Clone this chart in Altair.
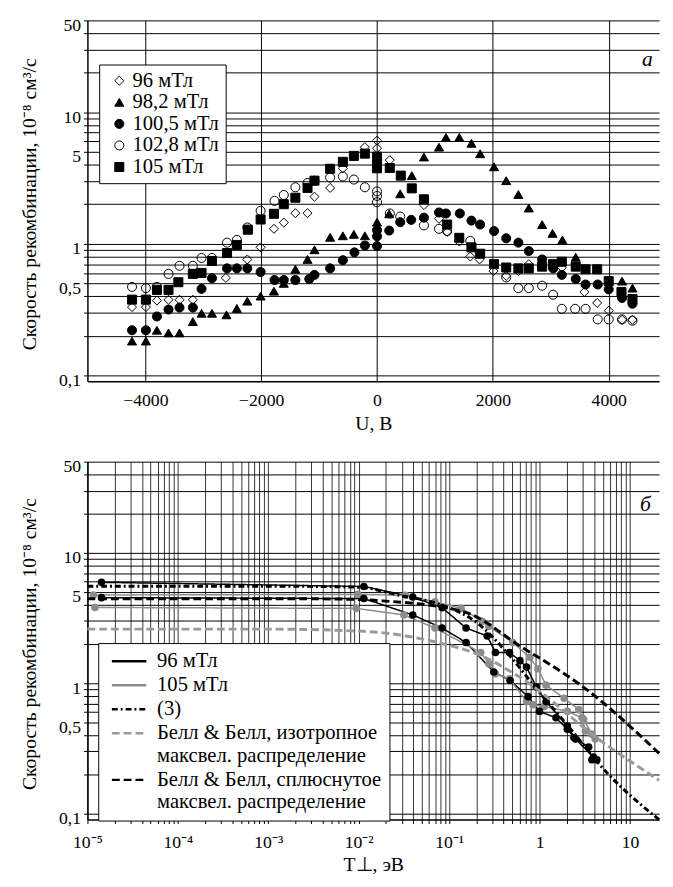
import altair as alt
import pandas as pd

FONT = "Liberation Serif"

# ---------------- panel а : recombination rate vs U ----------------
top_series = ["96 мТл", "98,2 мТл", "100,5 мТл", "102,8 мТл", "105 мТл"]

u_96 = [-4230, -3990, -3800, -3600, -3410, -3180, -2610, -2240, -2010, -1780, -1610, -1410, -1200, -1080,
        -810, -590, -210, 0, 0, 220, 810, 1070, 1210, 1420, 1610, 1770, 2010, 2230, 2440, 2620, 2850, 3190,
        3580, 3800, 4000, 4230, 4410]
r_96 = [0.33, 0.33, 0.37, 0.375, 0.375, 0.375, 0.55, 0.76, 0.94, 1.30, 1.45, 1.71, 1.71, 2.28,
        2.66, 3.75, 5.43, 6.09, 5.33, 4.33, 1.97, 1.55, 1.23, 1.04, 0.80, 0.76, 0.62, 0.57, 0.62, 0.70, 0.70, 0.66,
        0.43, 0.355, 0.31, 0.264, 0.264]

u_982 = [-4230, -3990, -3800, -3600, -3410, -3180, -3030, -2850, -2600, -2420, -2240, -2010, -1780, -1610,
         -1410, -1200, -1080, -810, -590, -400, -210, 0, 210, 400, 600, 810, 1070, 1190, 1420, 1630, 1780,
         2020, 2230, 2440, 2620, 2850, 3030, 3200, 3430, 4230, 4410]
r_982 = [0.182, 0.182, 0.22, 0.21, 0.21, 0.256, 0.296, 0.296, 0.288, 0.322, 0.366, 0.40, 0.436, 0.50,
         0.64, 0.76, 0.90, 1.12, 1.15, 1.18, 1.15, 1.46, 1.69, 2.40, 3.30, 4.57, 5.43, 6.44, 6.44, 5.81, 4.84,
         3.85, 3.02, 2.37, 1.87, 1.40, 1.20, 1.07, 0.79, 0.52, 0.46]

u_1005 = [-4230, -3990, -3800, -3600, -3410, -3180, -3030, -2850, -2590, -2420, -2240, -2010, -1770, -1610,
          -1410, -1170, -1080, -810, -590, -390, -210, 0, 0, 0, 210, 400, 590, 810, 1070, 1190, 1430, 1630,
          1780, 2020, 2230, 2440, 2620, 2850, 3040, 3190, 3430, 3600, 3810, 4000, 4230, 4410]
r_1005 = [0.22, 0.22, 0.28, 0.316, 0.327, 0.327, 0.454, 0.547, 0.65, 0.65, 0.65, 0.61, 0.53, 0.53,
          0.53, 0.54, 0.58, 0.65, 0.75, 0.86, 0.97, 0.96, 1.14, 1.27, 1.26, 1.46, 1.52, 1.58, 1.73, 1.70, 1.70, 1.50,
          1.40, 1.25, 1.10, 1.02, 0.88, 0.76, 0.65, 0.58, 0.54, 0.49, 0.49, 0.45, 0.387, 0.35]

u_1028 = [-4230, -3990, -3800, -3600, -3410, -3180, -3030, -2850, -2590, -2420, -2240, -2010, -1770, -1610,
          -1410, -1200, -1080, -810, -590, -400, -210, 0, 0, 0, 220, 400, 810, 1070, 1210, 1610, 2230, 2440,
          2620, 2850, 3040, 3190, 3420, 3600, 3810, 4000, 4230, 4410]
r_1028 = [0.47, 0.46, 0.47, 0.59, 0.68, 0.68, 0.78, 0.78, 1.02, 1.07, 1.33, 1.78, 2.12, 2.35,
          2.69, 2.90, 3.02, 3.19, 3.25, 3.08, 2.69, 2.50, 2.31, 2.07, 1.70, 1.61, 1.38, 1.30, 1.25, 1.05, 0.555, 0.46,
          0.46, 0.48, 0.41, 0.32, 0.32, 0.32, 0.266, 0.266, 0.266, 0.26]

u_105 = [-4230, -3990, -3800, -3600, -3430, -3180, -3030, -2850, -2590, -2420, -2230, -2010, -1780, -1610,
         -1410, -1200, -1080, -810, -590, -400, -210, 0, 0, 0, 220, 410, 600, 810, 1210, 1420, 1630, 1780,
         2020, 2230, 2440, 2620, 2850, 3040, 3190, 3430, 3600, 3800, 4000, 4220, 4410]
r_105 = [0.376, 0.376, 0.446, 0.446, 0.51, 0.59, 0.60, 0.74, 0.85, 0.98, 1.28, 1.53, 1.69, 2.0,
         2.24, 2.66, 3.02, 3.72, 4.2, 4.66, 4.85, 4.6, 4.2, 3.75, 3.77, 3.3, 2.64, 2.18, 1.40, 1.11, 0.94, 0.84,
         0.70, 0.66, 0.65, 0.65, 0.67, 0.70, 0.73, 0.67, 0.64, 0.64, 0.52, 0.43, 0.38]

top_shapes = ["diamond", "triangle-up", "circle", "circle", "square"]
top_fills = ["transparent", "black", "black", "transparent", "black"]
top_strokes = ["black", "black", "black", "black", "black"]

# ---------------- panel б : recombination rate vs T_perp ----------------
bottom_series = ["96 мТл", "105 мТл", "(3)",
                 "Белл & Белл, изотропное\nмаксвел. распределение",
                 "Белл & Белл, сплюснутое\nмаксвел. распределение"]

t_96a = [1.43e-5, 0.0114, 0.0396, 0.0838, 0.154, 0.264, 0.325, 0.465, 0.607, 0.718, 0.92, 1.18, 2.03, 2.5, 3.49, 3.79]
r_96a = [5.94, 5.52, 4.59, 3.79, 2.65, 2.30, 1.72, 1.72, 1.49, 1.33, 0.938, 0.723, 0.469, 0.373, 0.324, 0.259]
t_96b = [1.43e-5, 0.0114, 0.0396, 0.0838, 0.154, 0.312, 0.473, 0.747, 1.0, 1.52, 2.03, 2.4, 3.95, 4.3]
r_96b = [4.53, 4.46, 3.34, 2.65, 2.05, 1.22, 1.05, 0.789, 0.608, 0.543, 0.443, 0.384, 0.272, 0.259]
t_105a = [1.16e-5, 0.0098, 0.0329, 0.0697, 0.1355, 0.233, 0.275, 0.506, 0.779, 0.959, 1.18, 1.87, 2.72, 3.08, 3.79]
r_105a = [4.75, 4.8, 4.72, 4.21, 3.75, 2.98, 2.73, 2.05, 1.58, 1.29, 0.967, 0.767, 0.627, 0.527, 0.407]
t_105b = [1.21e-5, 0.0094, 0.0316, 0.0697, 0.2236, 0.275, 0.325, 0.465, 0.718, 0.846, 1.13, 2.03, 2.95, 3.21, 4.12]
r_105b = [3.81, 3.75, 3.34, 2.65, 1.72, 1.41, 1.18, 1.08, 0.723, 0.684, 0.664, 0.608, 0.543, 0.43, 0.373]

t_eq3 = [1e-5, 1e-3, 0.01, 0.0279, 0.0752, 0.206, 0.436, 0.92, 2.07, 5.67, 21]
r_eq3 = [5.55, 5.55, 5.45, 4.72, 4.06, 2.89, 1.72, 0.91, 0.469, 0.203, 0.09]
t_iso = [1e-5, 1e-3, 0.0114, 0.0752, 0.206, 0.607, 4.8, 21]
r_iso = [2.6, 2.6, 2.5, 2.05, 1.67, 1.11, 0.36, 0.18]
t_flat = [1e-5, 1e-3, 0.005, 0.0167, 0.146, 0.607, 3.21, 21]
r_flat = [4.45, 4.45, 4.43, 4.3, 3.53, 1.93, 0.91, 0.29]

bottom_colors = ["black", "#8c8c8c", "black", "#9a9a9a", "black"]
bottom_dashes = [[1, 0], [1, 0], [6, 3, 2, 3], [8, 4], [8, 4]]

# ---------------- tables ----------------
top_rows = []
for name, us, rs in zip(top_series, [u_96, u_982, u_1005, u_1028, u_105], [r_96, r_982, r_1005, r_1028, r_105]):
    for u, r in zip(us, rs):
        top_rows.append({"series": name, "U": u, "R": r})
df_top = pd.DataFrame(top_rows)

exp_rows = []
for name, br, ts, rs in [(bottom_series[0], "a", t_96a, r_96a), (bottom_series[0], "b", t_96b, r_96b),
                         (bottom_series[1], "c", t_105a, r_105a), (bottom_series[1], "d", t_105b, r_105b)]:
    for t, r in zip(ts, rs):
        exp_rows.append({"series": name, "branch": br, "T": t, "R": r})
df_exp = pd.DataFrame(exp_rows)

th_rows = []
for name, ts, rs in [(bottom_series[2], t_eq3, r_eq3), (bottom_series[3], t_iso, r_iso),
                     (bottom_series[4], t_flat, r_flat)]:
    for t, r in zip(ts, rs):
        th_rows.append({"series": name, "T": t, "R": r})
df_th = pd.DataFrame(th_rows)

# ---------------- layout ----------------
W = 583
H_TOP = 368
H_BOT = 365
GAP = 450          # distance from top of panel а plot to top of panel б plot

y_vals = [0.1, 0.2, 0.3, 0.4, 0.5, 0.6, 0.7, 0.8, 0.9, 1, 2, 3, 4, 5, 6, 7, 8, 9, 10, 20, 30, 40, 50]
y_label_expr = ("datum.value == 0.1 ? '0,1' : datum.value == 0.5 ? '0,5' : "
                "datum.value == 1 ? '1' : datum.value == 5 ? '5' : datum.value == 10 ? '10' : "
                "datum.value == 50 ? '50' : ''")
Y_TITLE = "Скорость рекомбинации, 10⁻⁸ см³/с"


def y_axis(h):
    return alt.Axis(values=y_vals, labelExpr=y_label_expr, labelOverlap=False, labelFlush=False,
                    grid=True, gridColor="black", gridWidth=1,
                    domainColor="black", domainWidth=1.5, tickColor="black", tickSize=4,
                    labelFont=FONT, labelFontSize=18, labelColor="black", labelPadding=3, labelOffset=5,
                    title=Y_TITLE, titleFont=FONT, titleFontSize=20, titleFontWeight="normal",
                    titleColor="black", titleX=-59, titleY=h / 2 + 3, titleAngle=-90,
                    titleBaseline="middle", titleAlign="center")


x_top_axis = alt.Axis(values=[-4000, -2000, 0, 2000, 4000], format="d", grid=True, gridColor="black",
                      gridWidth=1, domainColor="black", domainWidth=1.5, tickSize=0,
                      labelFont=FONT, labelFontSize=18, labelColor="black", labelPadding=11,
                      labelFlush=False, labelOverlap=False,
                      title="U, В", titleFont=FONT, titleFontSize=20, titleFontWeight="normal",
                      titleColor="black", titlePadding=4)

x_vals = [k * 10.0 ** d for d in range(-5, 1) for k in range(1, 10)] + [10.0]
x_label_expr = ("datum.value == 0.00001 ? '10⁻⁵' : datum.value == 0.0001 ? '10⁻⁴' : "
                "datum.value == 0.001 ? '10⁻³' : datum.value == 0.01 ? '10⁻²' : "
                "datum.value == 0.1 ? '10⁻¹' : datum.value == 1 ? '1' : datum.value == 10 ? '10' : ''")
x_bot_axis = alt.Axis(values=x_vals, labelExpr=x_label_expr, labelOverlap=False, labelFlush=False,
                      grid=True, gridColor="black", gridWidth=1, gridOpacity=0.8,
                      domainColor="black", domainWidth=1.5, tickColor="black", tickSize=4,
                      labelFont=FONT, labelFontSize=18, labelColor="black", labelPadding=10,
                      title="T⊥, эВ", titleFont=FONT, titleFontSize=20, titleFontWeight="normal",
                      titleColor="black", titlePadding=4)

# ---------------- panel а chart ----------------
top_legend = alt.Legend(title=None, orient="none", legendX=12, legendY=45, labelFont=FONT, labelFontSize=21,
                        labelColor="black", padding=6, rowPadding=0, symbolOffset=4, labelOffset=3,
                        strokeColor="black", fillColor="white", symbolStrokeWidth=1, symbolSize=85,
                        labelLimit=300)

pts_top = alt.Chart(df_top).mark_point(filled=False, strokeWidth=1, size=85, opacity=1).encode(
    x=alt.X("U:Q", scale=alt.Scale(domain=[-5000, 4870], nice=False, zero=False), axis=x_top_axis),
    y=alt.Y("R:Q", scale=alt.Scale(type="log", domain=[0.09, 50], nice=False), axis=y_axis(H_TOP)),
    shape=alt.Shape("series:N", scale=alt.Scale(domain=top_series, range=top_shapes), legend=top_legend),
    fill=alt.Fill("series:N", scale=alt.Scale(domain=top_series, range=top_fills), legend=top_legend),
    stroke=alt.Stroke("series:N", scale=alt.Scale(domain=top_series, range=top_strokes), legend=top_legend),
)

lab_a = alt.Chart(pd.DataFrame({"t": ["а"]})).mark_text(
    font=FONT, fontSize=22, fontStyle="italic", align="center", baseline="middle", color="black"
).encode(text="t:N", x=alt.value(571), y=alt.value(40))

top = alt.layer(pts_top, lab_a).properties(width=W, height=H_TOP)

# ---------------- panel б chart ----------------
# legend placed in root coordinates (origin = top-left of panel а plot area)
bottom_legend = alt.Legend(title=None, orient="none", legendX=11, legendY=GAP + 185, labelFont=FONT,
                           labelFontSize=21, labelColor="black", padding=8, rowPadding=2.5,
                           symbolType="M-4,0L4,0", symbolSize=77, symbolOffset=13, labelOffset=18,
                           symbolStrokeWidth=2.5, strokeColor="black", fillColor="white",
                           labelLimit=400, labelExpr="split(datum.label, '\\n')")

color_scale = alt.Scale(domain=bottom_series, range=bottom_colors)
dash_scale = alt.Scale(domain=bottom_series, range=bottom_dashes)
x_scale_b = alt.Scale(type="log", domain=[1e-5, 21], nice=False)
y_scale_b = alt.Scale(type="log", domain=[0.09, 50], nice=False)

exp_lines = alt.Chart(df_exp).mark_line(strokeWidth=1.5).encode(
    x=alt.X("T:Q", scale=x_scale_b, axis=x_bot_axis),
    y=alt.Y("R:Q", scale=y_scale_b, axis=y_axis(H_BOT)),
    color=alt.Color("series:N", scale=color_scale, legend=bottom_legend),
    strokeDash=alt.StrokeDash("series:N", scale=dash_scale, legend=bottom_legend),
    detail="branch:N",
)

gray_pts = alt.Chart(df_exp).transform_filter(alt.datum.series == bottom_series[1]).mark_circle(
    size=60, color="#8c8c8c", opacity=1).encode(x="T:Q", y="R:Q")
black_pts = alt.Chart(df_exp).transform_filter(alt.datum.series == bottom_series[0]).mark_circle(
    size=60, color="black", opacity=1).encode(x="T:Q", y="R:Q")

th_lines = alt.Chart(df_th).mark_line(strokeWidth=3, interpolate="monotone").encode(
    x="T:Q",
    y="R:Q",
    color=alt.Color("series:N", scale=color_scale, legend=bottom_legend),
    strokeDash=alt.StrokeDash("series:N", scale=dash_scale, legend=bottom_legend),
)

lab_b = alt.Chart(pd.DataFrame({"t": ["б"]})).mark_text(
    font=FONT, fontSize=22, fontStyle="italic", align="center", baseline="middle", color="black"
).encode(text="t:N", x=alt.value(569), y=alt.value(43))

bottom = alt.layer(exp_lines, gray_pts, black_pts, th_lines, lab_b).properties(width=W, height=H_BOT)

chart = alt.vconcat(top, bottom, spacing=25).properties(
    padding={"left": 12, "top": 0, "right": 0, "bottom": 0}
).configure(font=FONT).configure_view(stroke=None)

chart.save("out.html", embed_options={"renderer": "svg", "actions": False})
